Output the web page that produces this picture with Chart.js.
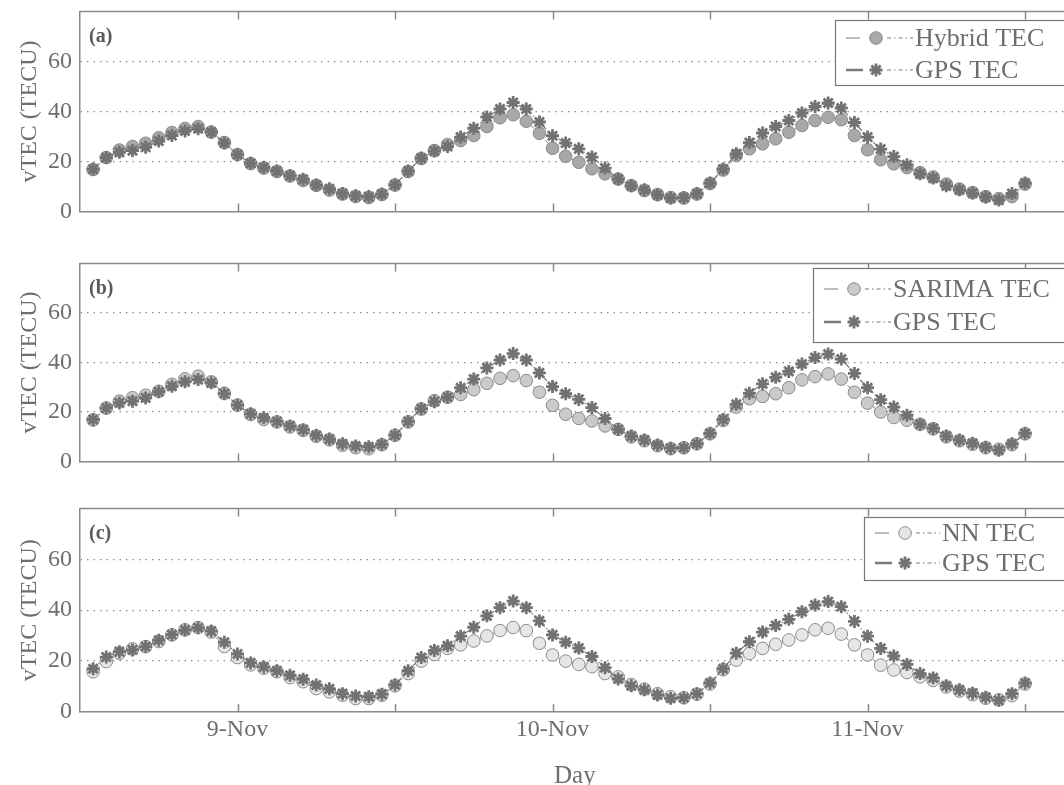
<!DOCTYPE html>
<html>
<head>
<meta charset="utf-8">
<script src="https://cdn.jsdelivr.net/npm/chart.js@4.4.0/dist/chart.umd.min.js"></script>
<style>
  html, body { margin: 0; padding: 0; background: #fff; overflow: hidden; }
  body { width: 1064px; height: 785px; position: relative; }
  .panel { position: absolute; left: 0; }
</style>
</head>
<body>
<div class="panel" style="top:-11px"><canvas id="panelA" width="1079" height="245"></canvas></div>
<div class="panel" style="top:241px"><canvas id="panelB" width="1079" height="243"></canvas></div>
<div class="panel" style="top:486px"><canvas id="panelC" width="1079" height="299"></canvas></div>
<script>
// hours counted from 8-Nov 12:00
const hours = [
  1, 2, 3, 4, 5, 6, 7, 8, 9, 10, 11, 12, 13, 14, 15, 16, 17, 18, 19, 20, 21, 22, 23, 24,
  25, 26, 27, 28, 29, 30, 31, 32, 33, 34, 35, 36, 37, 38, 39, 40, 41, 42, 43, 44, 45, 46, 47, 48,
  49, 50, 51, 52, 53, 54, 55, 56, 57, 58, 59, 60, 61, 62, 63, 64, 65, 66, 67, 68, 69, 70, 71, 72
];
const tickHours = [12, 24, 36, 48, 60, 72];
const dayLabels = { 12: '9-Nov', 36: '10-Nov', 60: '11-Nov' };

const gpsTec = [
  17.0, 21.6, 23.7, 24.4, 25.7, 28.2, 30.4, 32.2, 33.1, 31.8, 27.4, 22.8,
  19.3, 17.7, 16.2, 14.4, 12.9, 10.6, 9.1, 7.2, 6.3, 6.0, 7.0, 10.7,
  16.2, 21.4, 24.2, 26.0, 29.8, 33.3, 37.8, 41.0, 43.6, 41.0, 35.8, 30.3,
  27.4, 25.1, 21.8, 17.4, 13.0, 10.3, 8.7, 6.7, 5.4, 5.6, 7.2, 11.4,
  17.0, 23.1, 27.6, 31.4, 34.0, 36.4, 39.4, 42.0, 43.4, 41.4, 35.6, 29.8,
  25.0, 22.0, 18.7, 15.1, 13.4, 10.3, 8.7, 7.4, 5.8, 4.6, 7.2, 11.4
];
const hybridTec = [
  16.8, 21.6, 24.6, 26.0, 27.3, 29.5, 31.6, 33.2, 34.0, 31.8, 27.6, 22.8,
  19.2, 17.4, 16.0, 14.2, 12.4, 10.5, 8.6, 7.0, 6.0, 5.6, 6.8, 10.6,
  16.0, 21.2, 24.4, 26.8, 28.4, 30.4, 34.0, 37.5, 38.7, 36.1, 31.3, 25.3,
  22.1, 19.7, 17.1, 15.1, 13.0, 10.4, 8.4, 6.8, 5.6, 5.4, 7.0, 11.2,
  16.6, 22.4, 25.1, 27.1, 29.1, 31.7, 34.4, 36.4, 37.7, 36.7, 30.4, 24.7,
  20.7, 19.1, 17.6, 15.6, 13.8, 11.0, 9.0, 7.6, 6.0, 5.2, 6.0, 11.0
];
const sarimaTec = [
  16.8, 21.6, 24.4, 25.8, 26.8, 28.4, 31.2, 33.4, 34.5, 32.2, 27.6, 22.8,
  19.0, 17.0, 16.0, 14.0, 12.6, 10.2, 8.8, 6.6, 5.6, 5.2, 6.8, 10.6,
  16.0, 21.2, 24.6, 26.0, 27.1, 29.0, 31.6, 33.6, 34.7, 32.7, 28.0, 22.7,
  19.1, 17.4, 16.4, 14.4, 13.0, 10.0, 8.4, 6.4, 5.2, 5.6, 7.2, 11.2,
  16.6, 22.0, 25.4, 26.3, 27.4, 29.8, 33.0, 34.3, 35.4, 33.3, 28.0, 23.6,
  20.0, 17.8, 16.7, 15.0, 13.2, 10.0, 8.4, 7.0, 5.6, 5.0, 6.8, 11.2
];
const nnTec = [
  15.8, 19.8, 23.1, 24.8, 25.7, 27.7, 30.3, 32.3, 33.2, 31.4, 25.7, 21.4,
  18.5, 17.2, 15.8, 13.5, 11.9, 9.2, 7.9, 6.6, 5.3, 5.3, 6.6, 10.3,
  15.1, 20.0, 22.6, 25.0, 26.4, 27.9, 29.9, 32.0, 33.2, 32.0, 27.0, 22.4,
  20.0, 18.7, 17.8, 15.1, 13.8, 10.8, 9.0, 7.2, 6.0, 5.6, 7.0, 11.0,
  16.6, 20.4, 23.0, 25.0, 26.6, 28.3, 30.3, 32.3, 32.9, 30.6, 26.4, 22.4,
  18.4, 16.5, 15.5, 13.8, 12.4, 9.8, 8.2, 6.8, 5.4, 4.8, 6.4, 11.0
];

const serif = "'Liberation Serif', 'DejaVu Serif', serif";
const axisGray = '#8a8a8a';
const textGray = '#6e6e6e';

// frame: top border, inward ticks, panel tag and the boxed legend
const framePlugin = {
  id: 'frame',
  afterDraw(chart, args, opts) {
    const { ctx, chartArea: a } = chart;
    const xs = chart.scales.x;
    ctx.save();
    ctx.strokeStyle = axisGray;
    ctx.lineWidth = 1.5;
    ctx.beginPath();
    ctx.moveTo(a.left, a.top);
    ctx.lineTo(a.right, a.top);
    tickHours.forEach(h => {
      const px = Math.round(xs.getPixelForValue(h)) + 0.5;
      ctx.moveTo(px, a.top);
      ctx.lineTo(px, a.top + 8);
      ctx.moveTo(px, a.bottom);
      ctx.lineTo(px, a.bottom - 8);
    });
    ctx.stroke();

    ctx.fillStyle = '#5a5a5a';
    ctx.font = 'bold 20px ' + serif;
    ctx.textBaseline = 'middle';
    ctx.fillText(opts.tag, a.left + 9, a.top + 25);

    // legend
    const L = opts.legend;
    ctx.fillStyle = '#fff';
    ctx.fillRect(L.x, L.y, L.w, L.h);
    ctx.strokeStyle = '#777';
    ctx.lineWidth = 1.2;
    ctx.strokeRect(L.x + 0.5, L.y + 0.5, L.w, L.h);
    chart.data.datasets.forEach((ds, i) => {
      const y = L.y + L.row0 + i * L.rowGap;
      ctx.save();
      ctx.strokeStyle = '#7a7a7a';
      ctx.lineWidth = i === 1 ? 2.5 : 1;
      ctx.beginPath();
      ctx.moveTo(L.x + 11, y);
      ctx.lineTo(L.x + (i === 1 ? 28 : 25), y);
      ctx.stroke();
      ctx.lineWidth = 1;
      ctx.setLineDash([4, 3, 1.5, 3]);
      ctx.beginPath();
      ctx.moveTo(L.x + 52, y);
      ctx.lineTo(L.x + L.textX - 2, y);
      ctx.stroke();
      ctx.setLineDash([]);
      ctx.fillStyle = ds.pointBackgroundColor;
      ctx.strokeStyle = ds.pointBorderColor;
      ctx.lineWidth = ds.pointBorderWidth;
      Chart.helpers.drawPoint(ctx, {
        pointStyle: ds.pointStyle,
        rotation: 0,
        radius: ds.pointRadius,
        borderWidth: ds.pointBorderWidth
      }, L.x + 41, y);
      ctx.restore();
      ctx.fillStyle = textGray;
      ctx.font = '26px ' + serif;
      ctx.textBaseline = 'middle';
      ctx.fillText(ds.label, L.x + L.textX, y + 1);
    });
    ctx.restore();
  }
};

function makePanel(id, tag, modelLabel, modelData, modelFill, legend, withX, xHeight) {
  const pts = arr => arr.map((v, i) => ({ x: hours[i], y: v }));
  new Chart(document.getElementById(id), {
    type: 'line',
    data: {
      datasets: [
        {
          label: modelLabel,
          data: pts(modelData),
          order: 1,
          borderColor: '#808080',
          borderWidth: 1,
          borderDash: [5, 2, 1.5, 2],
          pointStyle: 'circle',
          pointRadius: 6.3,
          pointBackgroundColor: modelFill,
          pointBorderColor: '#8a8a8a',
          pointBorderWidth: 1
        },
        {
          label: 'GPS TEC',
          data: pts(gpsTec),
          order: 0,
          borderColor: '#777',
          borderWidth: 1.2,
          borderDash: [5, 2, 1.5, 2],
          pointStyle: 'star',
          pointRadius: 6.5,
          pointBackgroundColor: '#727272',
          pointBorderColor: '#727272',
          pointBorderWidth: 2.8
        }
      ]
    },
    options: {
      responsive: false,
      animation: false,
      events: [],
      layout: { padding: 0 },
      plugins: {
        legend: { display: false },
        tooltip: { enabled: false },
        frame: { tag: tag, legend: legend }
      },
      scales: {
        x: {
          type: 'linear',
          min: 0,
          max: 75.4,
          ticks: {
            display: withX,
            stepSize: 12,
            autoSkip: false,
            maxRotation: 0,
            padding: 3,
            color: textGray,
            font: { family: serif, size: 24 },
            callback: v => dayLabels[v] || ''
          },
          grid: { drawOnChartArea: false, drawTicks: false },
          border: { color: axisGray, width: 1.5 },
          title: {
            display: withX,
            text: 'Day',
            color: textGray,
            font: { family: serif, size: 25, lineHeight: 1 },
            padding: { top: 0, bottom: -4 }
          },
          afterFit: s => { s.height = xHeight; }
        },
        y: {
          min: 0,
          max: 80,
          ticks: {
            stepSize: 20,
            padding: 8,
            color: textGray,
            font: { family: serif, size: 24 },
            callback: v => (v === 80 ? '' : v)
          },
          grid: {
            drawTicks: false,
            lineWidth: 1.3,
            color: c => (c.tick && c.tick.value > 0 && c.tick.value < 80) ? '#8c8c8c' : 'rgba(0,0,0,0)'
          },
          border: { color: axisGray, width: 1.5, dash: [1.5, 5] },
          title: {
            display: true,
            text: 'vTEC (TECU)',
            color: textGray,
            font: { family: serif, size: 24 },
            padding: { top: 15, bottom: 0 }
          },
          afterFit: s => { s.width = 80; }
        }
      }
    },
    plugins: [framePlugin]
  });
}

makePanel('panelA', '(a)', 'Hybrid TEC', hybridTec, '#a8a8a8',
  { x: 835, y: 31, w: 240, h: 65, row0: 18, rowGap: 32, textX: 80 }, false, 0);
makePanel('panelB', '(b)', 'SARIMA TEC', sarimaTec, '#cacaca',
  { x: 813, y: 27, w: 260, h: 74, row0: 21, rowGap: 33, textX: 80 }, false, 0);
makePanel('panelC', '(c)', 'NN TEC', nnTec, '#e6e6e6',
  { x: 864, y: 31, w: 210, h: 63, row0: 16, rowGap: 30, textX: 78 }, true, 73);
</script>
</body>
</html>
